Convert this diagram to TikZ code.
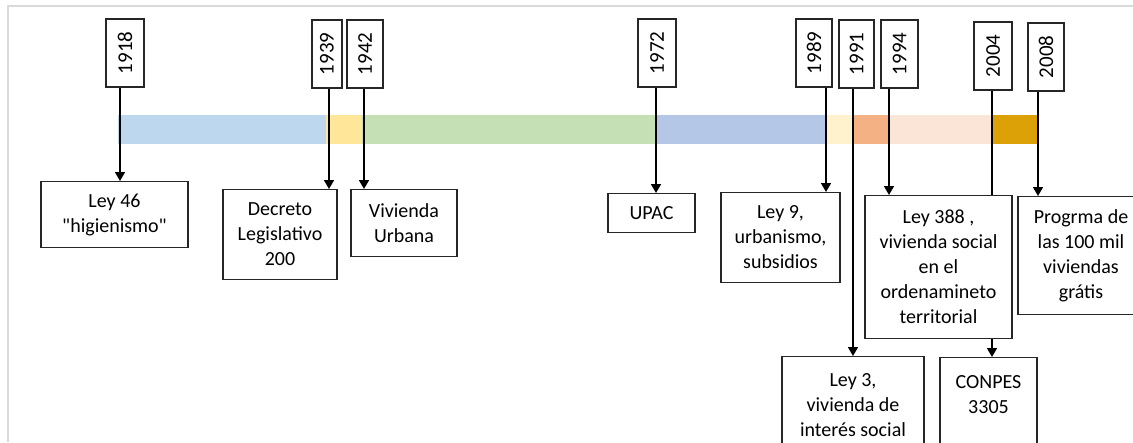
\documentclass[tikz,border=0pt]{standalone}
\usepackage{fontspec}
\setmainfont{Carlito}
\usetikzlibrary{arrows.meta}

\definecolor{azulclaro}{HTML}{BDD7EE}
\definecolor{amarillo}{HTML}{FFE699}
\definecolor{verde}{HTML}{C5E0B4}
\definecolor{azul}{HTML}{B4C7E7}
\definecolor{crema}{HTML}{FFF2CC}
\definecolor{naranja}{HTML}{F4B183}
\definecolor{durazno}{HTML}{FBE5D6}
\definecolor{oro}{HTML}{DCA106}

\begin{document}
\begin{tikzpicture}[x=1pt,y=-1pt,
  anio/.style={draw=black!85,line width=1.1pt,fill=white,rotate=90,minimum width=68pt,inner sep=0pt,font=\fontsize{21}{24}\selectfont},
  evento/.style={draw=black!85,line width=1.1pt,fill=white,anchor=north,align=center,inner sep=0pt,font=\fontsize{20}{25}\selectfont},
  flecha/.style={line width=1.7pt,-{Triangle[width=10pt,length=9pt]}}]
\useasboundingbox (0,0) rectangle (1133,442);
\clip (0,0) rectangle (1133,442);
\draw[black!15,line width=1.5pt] (8,442) -- (8,6) -- (1133,6);
\fill[azulclaro] (118,115) rectangle (326,144);
\fill[amarillo] (326,115) rectangle (362,144);
\fill[verde] (362,115) rectangle (656,144);
\fill[azul] (656,115) rectangle (825,144);
\fill[crema] (825,115) rectangle (853,144);
\fill[naranja] (853,115) rectangle (888,144);
\fill[durazno] (888,115) rectangle (992,144);
\fill[oro] (992,115) rectangle (1037,144);
\node[anio,minimum height=38pt] (a1918) at (125,53) {1918};
\node[anio,minimum height=30pt] (a1939) at (327,54) {1939};
\node[anio,minimum height=36pt] (a1942) at (365,54) {1942};
\node[anio,minimum height=38pt] (a1972) at (657,53) {1972};
\node[anio,minimum height=36pt] (a1989) at (814,53) {1989};
\node[anio,minimum height=35pt] (a1991) at (856.5,54) {1991};
\node[anio,minimum height=37pt] (a1994) at (899.5,54) {1994};
\node[anio,minimum height=38pt] (a2004) at (993,56) {2004};
\node[anio,minimum height=36pt] (a2008) at (1046,57) {2008};
\node[evento,minimum width=147pt,minimum height=66pt] (e1918) at (114.5,181) {Ley 46\\\textquotedbl higienismo\textquotedbl};
\node[evento,minimum width=114pt,minimum height=90pt] (e1939) at (280,189) {Decreto\\Legislativo\\200};
\node[evento,minimum width=106pt,minimum height=67pt] (e1942) at (404,189) {Vivienda\\Urbana};
\node[evento,minimum width=87pt,minimum height=39pt] (e1972) at (651.5,193) {UPAC};
\node[evento,minimum width=119pt,minimum height=90pt] (e1989) at (780.5,192) {Ley 9,\\urbanismo,\\subsidios};
\node[evento,minimum width=142pt,minimum height=98pt] (e1991) at (853,356) {Ley 3,\\vivienda de\\interés social};
\node[evento,minimum width=147pt,minimum height=143pt] (e1994) at (938.5,195) {Ley 388 ,\\vivienda social\\en el\\ordenamineto\\territorial};
\node[evento,minimum width=97pt,minimum height=98pt] (e2004) at (988.5,357) {CONPES\\3305\\~};
\node[evento,minimum width=126pt,minimum height=118pt] (e2008) at (1081,196) {Progrma de\\las 100 mil\\viviendas\\grátis};
\draw[flecha] (120,0 |- a1918.west) -- (120,0 |- e1918.north);
\draw[flecha] (329,0 |- a1939.west) -- (329,0 |- e1939.north);
\draw[flecha] (364,0 |- a1942.west) -- (364,0 |- e1942.north);
\draw[flecha] (656,0 |- a1972.west) -- (656,0 |- e1972.north);
\draw[flecha] (826,0 |- a1989.west) -- (826,0 |- e1989.north);
\draw[flecha] (853,0 |- a1991.west) -- (853,0 |- e1991.north);
\draw[flecha] (889,0 |- a1994.west) -- (889,0 |- e1994.north);
\draw[line width=1.7pt] (992,0 |- a2004.west) -- (992,0 |- e1994.north);
\draw[flecha] (992,0 |- e1994.south) -- (992,0 |- e2004.north);
\draw[flecha] (1038,0 |- a2008.west) -- (1038,0 |- e2008.north);
\end{tikzpicture}
\end{document}
